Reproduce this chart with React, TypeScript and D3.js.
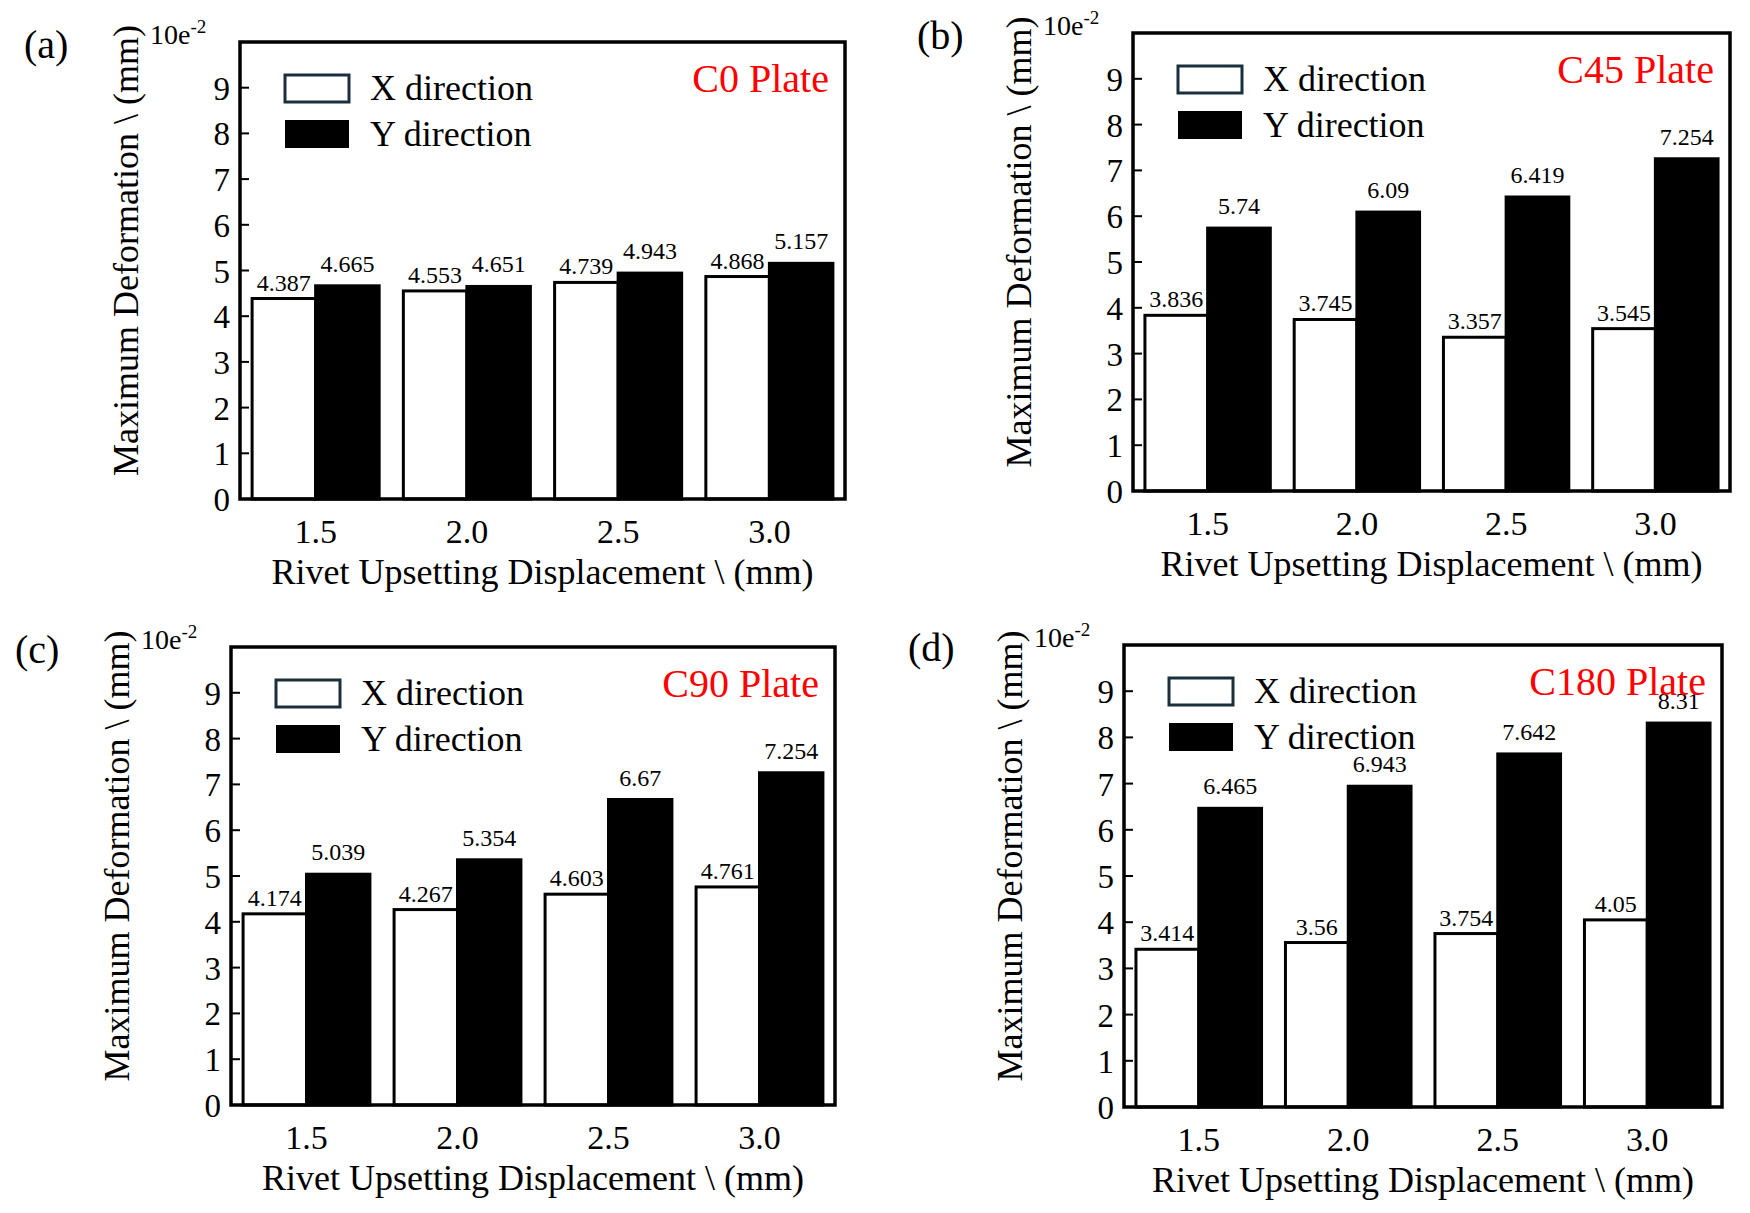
import * as d3 from 'd3';

const categories = ['1.5', '2.0', '2.5', '3.0'];
const yTicks = [0, 1, 2, 3, 4, 5, 6, 7, 8, 9];

const c0X = [4.387, 4.553, 4.739, 4.868];
const c0Y = [4.665, 4.651, 4.943, 5.157];
const c45X = [3.836, 3.745, 3.357, 3.545];
const c45Y = [5.74, 6.09, 6.419, 7.254];
const c90X = [4.174, 4.267, 4.603, 4.761];
const c90Y = [5.039, 5.354, 6.67, 7.254];
const c180X = [3.414, 3.56, 3.754, 4.05];
const c180Y = [6.465, 6.943, 7.642, 8.31];

const panels = [
  { tag: '(a)', title: 'C0 Plate', xs: c0X, ys: c0Y, box: [240, 42, 845, 499] },
  { tag: '(b)', title: 'C45 Plate', xs: c45X, ys: c45Y, box: [1133, 33, 1730, 491] },
  { tag: '(c)', title: 'C90 Plate', xs: c90X, ys: c90Y, box: [231, 647, 835, 1105] },
  { tag: '(d)', title: 'C180 Plate', xs: c180X, ys: c180Y, box: [1124, 645, 1722, 1107] },
];

const font = '"Liberation Serif", "Times New Roman", serif';

function Panel({ p }: { p: typeof panels[0] }) {
  const [l, t, r, b] = p.box;
  const w = r - l;
  const h = b - t;
  const x = d3.scaleBand().domain(categories).range([0, w]).paddingInner(0).paddingOuter(0);
  const y = d3.scaleLinear().domain([0, 10]).range([h, 0]);
  const bw = x.bandwidth() * 0.42;
  const gap = (x.bandwidth() - 2 * bw) / 2;
  return (
    <g transform={`translate(${l},${t})`} fontFamily={font}>
      <text x={-216} y={16} fontSize={40}>{p.tag}</text>
      <text x={-90} y={2} fontSize={28}>10e<tspan dy={-11} fontSize={19}>-2</tspan></text>
      {categories.map((c, i) => {
        const x0 = (x(c) || 0) + gap;
        return (
          <g key={c}>
            <rect x={x0} y={y(p.xs[i])} width={bw} height={h - y(p.xs[i])} fill="#fff" stroke="#000" strokeWidth={3} />
            <rect x={x0 + bw} y={y(p.ys[i])} width={bw} height={h - y(p.ys[i])} fill="#000" stroke="#000" strokeWidth={3} />
            <text x={x0 + bw / 2} y={y(p.xs[i]) - 8} fontSize={24} textAnchor="middle">{p.xs[i]}</text>
            <text x={x0 + bw * 1.5} y={y(p.ys[i]) - 14} fontSize={24} textAnchor="middle">{p.ys[i]}</text>
            <text x={(x(c) || 0) + x.bandwidth() / 2} y={h + 44} fontSize={34} textAnchor="middle">{c}</text>
          </g>
        );
      })}
      {yTicks.map(v => (
        <g key={v}>
          <line x1={0} x2={9} y1={y(v)} y2={y(v)} stroke="#000" strokeWidth={2} />
          <text x={-10} y={y(v) + 12} fontSize={33} textAnchor="end">{v}</text>
        </g>
      ))}
      <rect x={0} y={0} width={w} height={h} fill="none" stroke="#000" strokeWidth={3.5} />
      <rect x={45} y={33} width={64} height={27} fill="#fff" stroke="#1b2f3d" strokeWidth={3} />
      <rect x={45} y={78} width={64} height={28} fill="#000" />
      <text x={130} y={58} fontSize={36}>X direction</text>
      <text x={130} y={104} fontSize={36}>Y direction</text>
      <text x={w - 16} y={50} fontSize={40} fill="#ff0000" textAnchor="end">{p.title}</text>
      <text x={w / 2} y={h + 85} fontSize={36} textAnchor="middle">Rivet Upsetting Displacement \ (mm)</text>
      <text transform={`translate(${-102},${h / 2 - 20}) rotate(-90)`} fontSize={36} textAnchor="middle">Maximum Deformation \ (mm)</text>
    </g>
  );
}

export default function App() {
  return (
    <svg width={1750} height={1213} style={{ position: 'absolute', left: 0, top: 0, background: '#fff' }}>
      <rect width={1750} height={1213} fill="#fff" />
      {panels.map(p => <Panel key={p.tag} p={p} />)}
    </svg>
  );
}
